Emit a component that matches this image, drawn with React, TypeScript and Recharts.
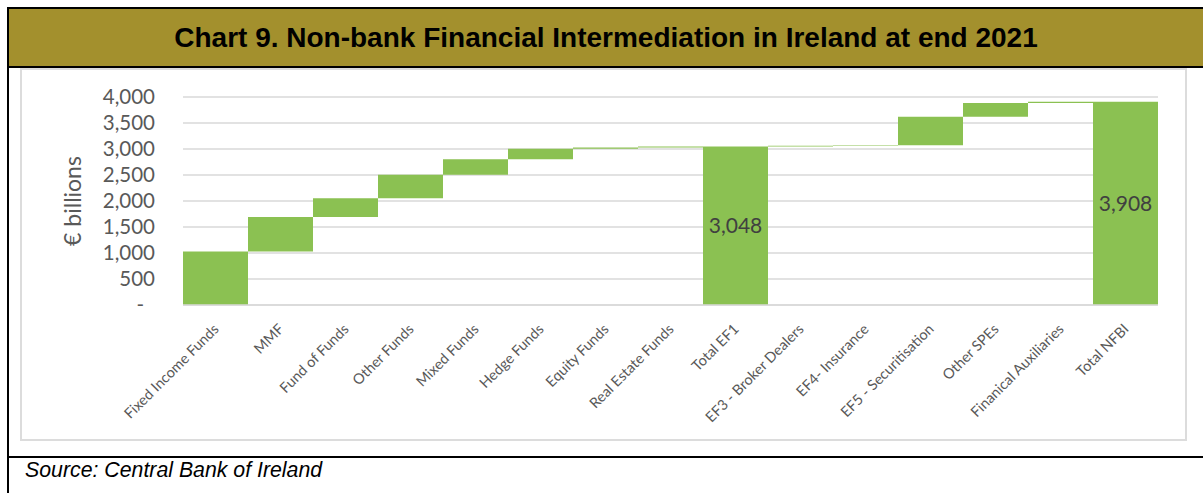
import { Bar, BarChart, CartesianGrid, LabelList, XAxis, YAxis } from 'recharts';

// contributions in € billions; totals are given as printed
const categories = [
    'Fixed Income Funds', 'MMF', 'Fund of Funds', 'Other Funds', 'Mixed Funds', 'Hedge Funds',
    'Equity Funds', 'Real Estate Funds', 'Total EF1', 'EF3 - Broker Dealers', 'EF4- Insurance',
    'EF5 - Securitisation', 'Other SPEs', 'Finanical Auxiliaries', 'Total NFBI',
];
const values = [1030, 660, 365, 450, 300, 200, 25, 18, 3048, 15, 10, 545, 265, 25, 3908];
const isTotal = [false, false, false, false, false, false, false, false, true, false, false, false, false, false, true];
const yTicks = [0, 500, 1000, 1500, 2000, 2500, 3000, 3500, 4000];

const FONT = 'Lato, "Open Sans", sans-serif';
const GREEN = '#8bc152';

const chartData = (() => {
    let running = 0;
    return categories.map((name, i) => {
        const total = isTotal[i];
        const base = total ? 0 : running;
        if (!total) running += values[i];
        return {
            name,
            base,
            value: values[i],
            label: total ? values[i].toLocaleString('en-US') : '',
        };
    });
})();

const XTick = (props: any) => {
    const {x, y, payload} = props;
    return (
        <text
            x={x}
            y={y}
            dx={-9}
            dy={15}
            transform={`rotate(-45, ${x}, ${y})`}
            textAnchor={'end'}
            fontFamily={FONT}
            fontSize={14.5}
            fill={'#595959'}
        >
            {payload.value}
        </text>
    );
};

const YTick = (props: any) => {
    const {x, y, payload} = props;
    const zero = payload.value === 0;
    return (
        <text
            x={zero ? x - 31 : x - 20}
            y={y}
            dy={7}
            textAnchor={'end'}
            fontFamily={FONT}
            fontSize={20.5}
            fill={'#595959'}
        >
            {zero ? '-' : payload.value.toLocaleString('en-US')}
        </text>
    );
};

export default function App() {
    return (
        <div style={{position: 'absolute', left: 0, top: 0, width: 1203, height: 493, background: '#fff', overflow: 'hidden'}}>
            {/* frame */}
            <div style={{position: 'absolute', left: 7, top: 7, width: 1196, height: 2, background: '#000'}} />
            <div style={{position: 'absolute', left: 7, top: 7, width: 2, height: 486, background: '#000'}} />
            <div style={{position: 'absolute', left: 9, top: 9, width: 1194, height: 57, background: '#a3902d'}} />
            <div style={{position: 'absolute', left: 7, top: 66, width: 1196, height: 2, background: '#000'}} />
            <div style={{position: 'absolute', left: 7, top: 456, width: 1196, height: 2, background: '#000'}} />
            <div
                style={{
                    position: 'absolute', left: 9, top: 9, width: 1194, height: 57,
                    display: 'flex', alignItems: 'center', justifyContent: 'center',
                    fontFamily: 'Arial, "Liberation Sans", sans-serif', fontWeight: 'bold', fontSize: 28, color: '#000',
                }}
            >
                Chart 9. Non-bank Financial Intermediation in Ireland at end 2021
            </div>
            <div
                style={{
                    position: 'absolute', left: 25, top: 458,
                    fontFamily: 'Arial, "Liberation Sans", sans-serif', fontStyle: 'italic', fontSize: 21.3, color: '#000',
                }}
            >
                Source: Central Bank of Ireland
            </div>

            {/* chart box */}
            <div style={{position: 'absolute', left: 20, top: 68, width: 1163, height: 369, border: '2px solid #dcdcdc'}} />
            <div style={{position: 'absolute', left: 21, top: 70}}>
                <BarChart
                    width={1165}
                    height={370}
                    data={chartData}
                    margin={{top: 27, right: 28, bottom: 5, left: 0}}
                    barCategoryGap={0}
                >
                    <CartesianGrid vertical={false} stroke={'#d9d9d9'} strokeWidth={1.5} />
                    <XAxis
                        dataKey={'name'}
                        interval={0}
                        axisLine={{stroke: '#d9d9d9', strokeWidth: 1.5}}
                        tickLine={false}
                        height={130}
                        tick={<XTick />}
                    />
                    <YAxis
                        width={162}
                        domain={[0, 4000]}
                        ticks={yTicks}
                        interval={0}
                        axisLine={false}
                        tickLine={false}
                        tickSize={0}
                        tickMargin={8}
                        tick={<YTick />}
                        label={{
                            value: '€ billions',
                            angle: -90,
                            position: 'insideLeft',
                            offset: 52,
                            style: {fontFamily: FONT, fontSize: 23, fill: '#595959', textAnchor: 'middle'},
                        }}
                    />
                    <Bar dataKey={'base'} stackId={'w'} fill={'transparent'} isAnimationActive={false} />
                    <Bar dataKey={'value'} stackId={'w'} fill={GREEN} isAnimationActive={false}>
                        <LabelList
                            dataKey={'label'}
                            position={'center'}
                            fill={'#404040'}
                            fontFamily={FONT}
                            fontSize={21}
                        />
                    </Bar>
                </BarChart>
            </div>
        </div>
    );
}
